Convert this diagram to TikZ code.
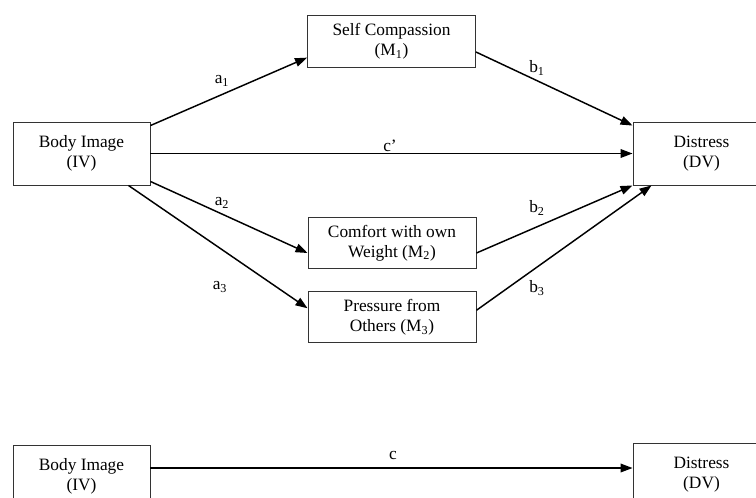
\documentclass[tikz,border=0pt]{standalone}
\usepackage{fontspec}
\setmainfont{Liberation Serif}
\usetikzlibrary{arrows.meta,positioning,calc}

\begin{document}
\begin{tikzpicture}[
    x=0.75pt, y=-0.75pt,
    % Define styles
    var/.style={rectangle, draw=black!80, line width=0.7pt, align=center, font=\fontsize{13}{15}\selectfont, minimum width=102.75pt, minimum height=47.25pt, inner sep=0pt},
    med/.style={var, minimum width=126pt, minimum height=38.5pt},
    path/.style={-{Triangle[length=9pt, width=6.5pt]}, line width=1.1pt},
    coef/.style={font=\fontsize{13}{15}\selectfont}
]
\useasboundingbox (0,0) rectangle (756,497);

% Mediation model
\node[var] (img) at (81.5,153.5) {Body Image\\(IV)};
\node[var] (dist) at (701.5,153.5) {Distress\\(DV)};
\node[med] (self) at (391.5,41.5) {Self Compassion\\(M\textsubscript{1})};
\node[med] (comf) at (392,243) {Comfort with own\\Weight (M\textsubscript{2})};
\node[med, below=16.5pt of comf] (press) {Pressure from\\Others (M\textsubscript{3})};

% Paths a
\draw[path] ($(img.north east)+(0,4)$) -- ($(self.south west)+(0,-10)$);
\draw[path] ($(img.south east)+(0,-4)$) -- ($(comf.west)+(0,10)$);
\draw[path] ($(img.south east)+(-22,0)$) -- ($(press.west)+(0,-9)$);

% Direct path
\draw[path] (img) -- (dist);

% Paths b
\draw[path] ($(self.east)+(0,10.5)$) -- ($(dist.north west)+(0,4)$);
\draw[path] ($(comf.east)+(0,10)$) -- (dist.south west);
\draw[path] ($(press.east)+(0,-7)$) -- ($(dist.south west)+(19,0)$);

% Coefficients
\node[coef] (la1) at (222,81) {a\textsubscript{1}};
\node[coef] (la2) at (222,203) {a\textsubscript{2}};
\node[coef] (la3) at (220,287) {a\textsubscript{3}};
\node[coef] (lb1) at (537,68) {b\textsubscript{1}};
\node[coef] (lb2) at (537,208) {b\textsubscript{2}};
\node[coef] (lb3) at (537,288) {b\textsubscript{3}};
\node[coef] (lcp) at (390,146) {c’};

% Total effect
\node[var] (imgT) at (81.5,476.5) {Body Image\\(IV)};
\node[var] (distT) at (701.5,474.5) {Distress\\(DV)};
\coordinate (cstart) at ($(imgT.east)+(0,-8.5)$);
\draw[path] (cstart) -- (cstart -| distT.west);
\node[coef] (lc) at (393,455) {c};

\end{tikzpicture}
\end{document}
